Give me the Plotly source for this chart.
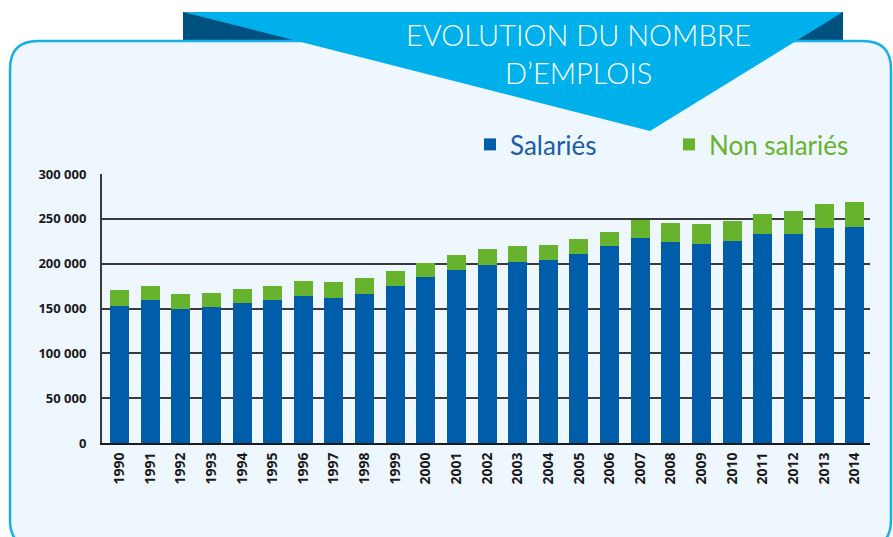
import plotly.graph_objects as go

years = [str(y) for y in range(1990, 2015)]
salaries = [153000, 159700, 149600, 151900, 156300, 159700, 164100, 161900, 166300, 175300,
            185300, 193100, 198700, 202000, 204200, 210900, 219800, 228700, 224300, 222000,
            225400, 233200, 233200, 239900, 241000]
totals = [170800, 175300, 166300, 167500, 171900, 175300, 180800, 179700, 184200, 192000,
          200900, 209800, 216500, 219800, 220900, 227600, 235400, 249100, 245400, 244300,
          247700, 255500, 258800, 266600, 268800]
non_salaries = [t - s for t, s in zip(totals, salaries)]
y_ticks = [0, 50000, 100000, 150000, 200000, 250000, 300000]
y_tick_text = ["0", "50 000", "100 000", "150 000", "200 000", "250 000", "300 000"]

W, H = 893, 537
L, R, T, B = 102, 870, 174, 443


def px(x):
    return (x - L) / (R - L)


def py(y):
    return (B - y) / (B - T)


BLUE = "#005DAA"
GREEN = "#67B32E"
COND = "Lato, sans-serif"

fig = go.Figure()
fig.add_trace(go.Bar(x=years, y=salaries, name="<span style='color:#1B5DA8'>Salariés</span>",
                     marker=dict(color=BLUE, line=dict(width=0))))
fig.add_trace(go.Bar(x=years, y=non_salaries, name="<span style='color:#67B32E'>Non salariés</span>",
                     marker=dict(color=GREEN, line=dict(width=0))))

# rounded box path
x0, x1, y0, y1, r = 10, 891, 41, 548, 28
path = (f"M {px(x0 + r)},{py(y0)} L {px(x1 - r)},{py(y0)} "
        f"Q {px(x1)},{py(y0)} {px(x1)},{py(y0 + r)} "
        f"L {px(x1)},{py(y1 - r)} Q {px(x1)},{py(y1)} {px(x1 - r)},{py(y1)} "
        f"L {px(x0 + r)},{py(y1)} Q {px(x0)},{py(y1)} {px(x0)},{py(y1 - r)} "
        f"L {px(x0)},{py(y0 + r)} Q {px(x0)},{py(y0)} {px(x0 + r)},{py(y0)} Z")

shapes = [
    dict(type="rect", xref="paper", yref="paper", x0=px(183), x1=px(843), y0=py(12), y1=py(42),
         fillcolor="#005080", line=dict(width=0), layer="below"),
    dict(type="path", xref="paper", yref="paper", path=path, fillcolor="#EEF6FE",
         line=dict(color="#19AFE6", width=2.5), layer="below"),
    dict(type="path", xref="paper", yref="paper",
         path=f"M {px(183)},{py(12)} L {px(843)},{py(12)} L {px(650)},{py(131)} Z",
         fillcolor="#00B0EA", line=dict(width=0), layer="below"),
]

fig.update_layout(
    width=W, height=H,
    margin=dict(l=L, r=W - R, t=T, b=H - B, pad=0, autoexpand=False),
    paper_bgcolor="white",
    plot_bgcolor="rgba(0,0,0,0)",
    barmode="stack",
    bargap=0.38,
    shapes=shapes,
    showlegend=True,
    legend=dict(orientation="h", x=px(470), y=py(121), xanchor="left", yanchor="top",
                font=dict(family=COND, size=26),
                entrywidth=154, entrywidthmode="pixels", bgcolor="rgba(0,0,0,0)",
                itemclick=False, traceorder="normal"),
    annotations=[
        dict(text="EVOLUTION DU NOMBRE<br>D’EMPLOIS", xref="paper", yref="paper",
             x=px(578), y=py(53), xanchor="center", yanchor="middle", showarrow=False,
             font=dict(family=COND, size=29, color="white", weight=300), align="center"),
    ],
    font=dict(family="Open Sans, sans-serif", color="#1a1a1a"),
)

fig.update_xaxes(type="category", range=[-0.57, 24.5], tickangle=-90,
                 tickfont=dict(size=14, weight="bold", color="#1a1a1a"),
                 showline=True, linecolor="#1a1a1a", linewidth=2, ticks="", showgrid=False,
                 ticklabelstandoff=2, automargin=False)
fig.update_yaxes(range=[0, 300000], tickvals=y_ticks, ticktext=y_tick_text,
                 tickfont=dict(size=13, weight="bold", color="#1a1a1a"),
                 showgrid=True, gridcolor="#3a3a3a", gridwidth=1.5, zeroline=False,
                 showline=True, linecolor="#3a3a3a", linewidth=2, ticks="",
                 ticklabelstandoff=11, automargin=False)

fig.write_html("out.html", config={"displayModeBar": False},
               post_script="document.body.style.margin='0';document.body.style.overflow='hidden';")
